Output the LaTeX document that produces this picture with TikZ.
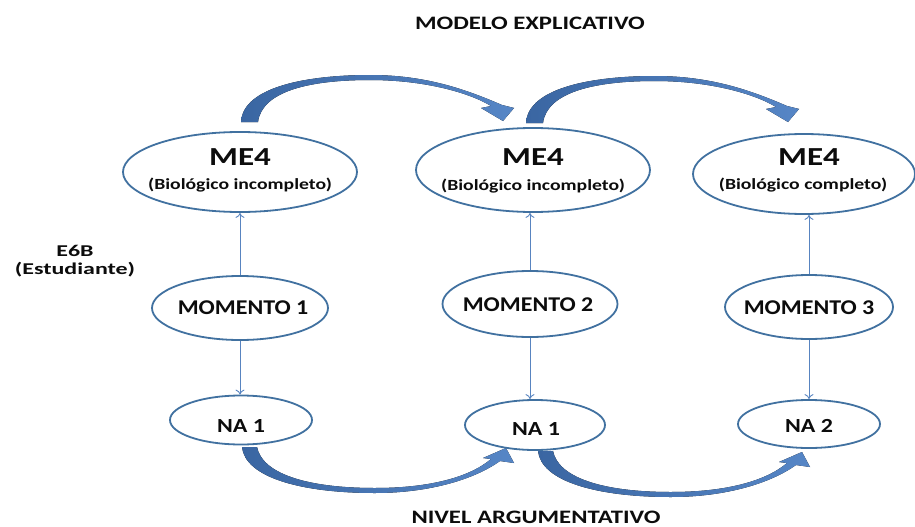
\documentclass[tikz,border=0pt]{standalone}
\usepackage{fontspec}
\setmainfont{Carlito}
\usepackage{graphicx}
\usetikzlibrary{arrows.meta,shapes.geometric}

\definecolor{edgeblue}{RGB}{65,113,160}
\definecolor{arrowdark}{RGB}{58,102,162}
\definecolor{arrowlight}{RGB}{86,134,198}
\definecolor{thinblue}{RGB}{88,132,192}
\definecolor{ink}{RGB}{12,12,12}

% bold text at a given size, widened horizontally
\newcommand{\stx}[3]{\scalebox{#1}[1]{\fontsize{#2}{#2}\selectfont\bfseries #3}}

% curved block arrow over the top row
\tikzset{arcover/.pic={
  \fill[bigarrow] (0,0) .. controls (2,-36) and (69,-47) .. (129,-47)
     .. controls (184,-47) and (224,-33) .. (261,-17)
     -- (273,-14) -- (262,-1) -- (240,-14) -- (250,-16)
     .. controls (229,-29) and (184,-42) .. (129,-42)
     .. controls (69,-42) and (21,-31) .. (17,0) -- cycle;}}
% curved block arrow under the bottom row
\tikzset{arcunder/.pic={
  \fill[bigarrow] (0,0) .. controls (3,30) and (58,46) .. (133,46)
     .. controls (188,46) and (233,32) .. (258,14)
     -- (272,16) -- (264,1) -- (241,11) -- (249,12)
     .. controls (228,30) and (188,41) .. (133,41)
     .. controls (63,41) and (20,26) .. (15,0) -- cycle;}}

\begin{document}
\begin{tikzpicture}[x=1pt,y=-1pt,
  oval/.style={ellipse,draw=edgeblue,line width=1.8pt,inner sep=0pt,fill=white},
  link/.style={draw=thinblue,line width=0.9pt,-{To[length=5pt,width=9pt]}},
  lbl/.style={text=ink,inner sep=0pt,anchor=base},
  bigarrow/.style={left color=arrowdark,right color=arrowlight,draw=none}]
\useasboundingbox (0,0) rectangle (915,527);

\pic at (241,122) {arcover};
\pic at (526,123) {arcover};
\pic at (242,447) {arcunder};
\pic at (538,451) {arcunder};

% top row: explanatory models
\node[oval,minimum width=234pt,minimum height=80pt] (me1) at (240,172) {};
\node[oval,minimum width=234pt,minimum height=84pt] (me2) at (533,170) {};
\node[oval,minimum width=222pt,minimum height=80pt] (me3) at (804,174) {};

% middle row: moments
\node[oval,minimum width=176pt,minimum height=64pt] (mo1) at (240,308) {};
\node[oval,minimum width=175pt,minimum height=66pt] (mo2) at (530,304) {};
\node[oval,minimum width=168pt,minimum height=64pt] (mo3) at (809,307) {};

% bottom row: argumentative levels
\node[oval,minimum width=142pt,minimum height=49pt] (na1) at (241,420) {};
\node[oval,minimum width=140pt,minimum height=50pt] (na2) at (535,425) {};
\node[oval,minimum width=142pt,minimum height=48pt] (na3) at (809,424) {};

% thin connectors
\draw[link] (mo1.north) -- (mo1.north |- me1.south);
\draw[link] (mo2.north) -- (mo2.north |- me2.south);
\draw[link] (mo3.north) -- (mo3.north |- me3.south);
\draw[link] (mo1.south) -- (mo1.south |- na1.north);
\draw[link] (mo2.south) -- (mo2.south |- na2.north);
\draw[link] (mo3.south) -- (mo3.south |- na3.north);

% labels
\node[lbl] (ttop) at (530,30) {\stx{1.3}{19}{MODELO EXPLICATIVO}};
\node[lbl] (tbot) at (536,523) {\stx{1.3}{19}{NIVEL ARGUMENTATIVO}};
\node[lbl] (tst1) at (75,256) {\stx{1.45}{16.5}{E6B}};
\node[lbl] (tst2) at (75,274) {\stx{1.45}{16.5}{(Estudiante)}};

\node[lbl] (me1a) at (240,165) {\stx{1.27}{26}{ME4}};
\node[lbl] (me1b) at (240,189) {\stx{1.27}{15.5}{(Biológico incompleto)}};
\node[lbl] (me2a) at (533,165) {\stx{1.27}{26}{ME4}};
\node[lbl] (me2b) at (533,190) {\stx{1.27}{15.5}{(Biológico incompleto)}};
\node[lbl] (me3a) at (809,165) {\stx{1.27}{26}{ME4}};
\node[lbl] (me3b) at (803,189) {\stx{1.27}{15.5}{(Biológico completo)}};

\node[lbl] (mo1t) at (243,314) {\stx{1.14}{21}{MOMENTO 1}};
\node[lbl] (mo2t) at (528,311) {\stx{1.14}{21}{MOMENTO 2}};
\node[lbl] (mo3t) at (809,314) {\stx{1.14}{21}{MOMENTO 3}};

\node[lbl] (na1t) at (241,432) {\stx{1.2}{20}{NA 1}};
\node[lbl] (na2t) at (536,435) {\stx{1.2}{20}{NA 1}};
\node[lbl] (na3t) at (809,432) {\stx{1.2}{20}{NA 2}};
\end{tikzpicture}
\end{document}
